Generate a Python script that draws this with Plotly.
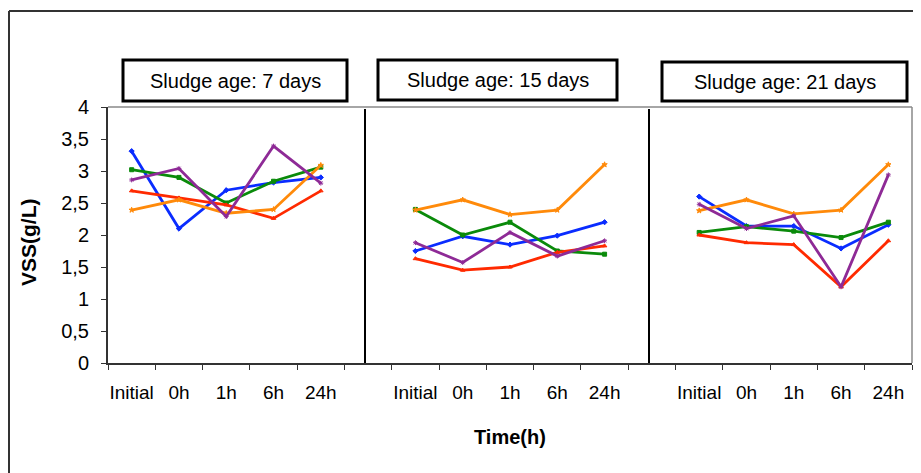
import plotly.graph_objects as go

# ---- data ----
time_labels = ["Initial", "0h", "1h", "6h", "24h"]
panel_titles = ["Sludge age: 7 days", "Sludge age: 15 days", "Sludge age: 21 days"]
y_tick_vals = [0, 0.5, 1, 1.5, 2, 2.5, 3, 3.5, 4]
y_tick_text = ["0", "0,5", "1", "1,5", "2", "2,5", "3", "3,5", "4"]

# values per panel (7 d, 15 d, 21 d), each at Initial, 0h, 1h, 6h, 24h
blue_7 = [3.31, 2.10, 2.70, 2.82, 2.90]
blue_15 = [1.75, 1.98, 1.85, 1.99, 2.20]
blue_21 = [2.60, 2.14, 2.14, 1.79, 2.16]

green_7 = [3.02, 2.90, 2.50, 2.84, 3.06]
green_15 = [2.40, 2.00, 2.20, 1.75, 1.70]
green_21 = [2.04, 2.13, 2.06, 1.96, 2.20]

purple_7 = [2.86, 3.04, 2.29, 3.39, 2.81]
purple_15 = [1.88, 1.57, 2.04, 1.67, 1.91]
purple_21 = [2.48, 2.10, 2.30, 1.19, 2.94]

red_7 = [2.69, 2.58, 2.47, 2.26, 2.69]
red_15 = [1.63, 1.45, 1.50, 1.73, 1.83]
red_21 = [2.00, 1.88, 1.85, 1.19, 1.91]

orange_7 = [2.39, 2.55, 2.34, 2.40, 3.09]
orange_15 = [2.39, 2.55, 2.32, 2.39, 3.10]
orange_21 = [2.38, 2.55, 2.33, 2.39, 3.10]

# ---- layout geometry (page pixels; page body has an 8px margin) ----
OFF = 8
PAGE_W, PAGE_H = 921, 473
W, H = PAGE_W - OFF, PAGE_H - OFF
L, R, T, B = 108, 912, 107, 363
FONT = "Arial, Liberation Sans, sans-serif"

def px(x):
    return (x - L) / (R - L)

def py(y):
    return (B - y) / (B - T)

n_slots = 17  # 5 categories + gap, x3
x_positions = list(range(n_slots))
x_labels = []
for p in range(3):
    x_labels += time_labels
    if p < 2:
        x_labels.append("")

def join(a, b, c):
    return a + [None] + b + [None] + c

series = [
    ("Series 1", "#0A2CFF", "diamond", join(blue_7, blue_15, blue_21)),
    ("Series 2", "#0A8A0A", "square", join(green_7, green_15, green_21)),
    ("Series 3", "#FF2A00", "triangle-up", join(red_7, red_15, red_21)),
    ("Series 4", "#FF8A0A", "star", join(orange_7, orange_15, orange_21)),
    ("Series 5", "#8E2A96", "asterisk-open", join(purple_7, purple_15, purple_21)),
]

fig = go.Figure()
for name, color, sym, ys in series:
    fig.add_trace(go.Scatter(
        x=x_positions, y=ys, name=name, mode="lines+markers",
        line=dict(color=color, width=2.8),
        marker=dict(symbol=sym, size=4, color=color, line=dict(color=color, width=1)),
        connectgaps=False, showlegend=False,
    ))

fig.update_layout(
    width=W, height=H,
    margin=dict(l=L - OFF, r=PAGE_W - R, t=T - OFF, b=PAGE_H - B, pad=0),
    paper_bgcolor="white", plot_bgcolor="white",
    font=dict(family=FONT, color="black"),
    showlegend=False,
)

fig.update_xaxes(
    range=[-0.5, n_slots - 0.5],
    tickmode="array", tickvals=x_positions, ticktext=x_labels,
    ticks="", showgrid=False, zeroline=False,
    showline=True, linecolor="#333333", linewidth=2,
    tickfont=dict(size=19, family=FONT, color="black"),
    ticklabelstandoff=11,
    minor=dict(tickmode="linear", tick0=-0.5, dtick=1, ticks="outside",
               ticklen=5, tickcolor="#333333", tickwidth=1, showgrid=False),
)
fig.update_yaxes(
    range=[0, 4], tickmode="array", tickvals=y_tick_vals, ticktext=y_tick_text,
    ticks="outside", ticklen=5, tickcolor="#333333", tickwidth=1,
    showgrid=False, zeroline=False,
    showline=True, linecolor="#333333", linewidth=2,
    tickfont=dict(size=20, family=FONT, color="black"),
    ticklabelstandoff=8,
)

shapes = []
# outer chart border (only top and left visible in the frame)
shapes.append(dict(type="line", xref="paper", yref="paper",
                   x0=px(9), x1=px(921), y0=py(11), y1=py(11),
                   line=dict(color="#333333", width=2), layer="below"))
shapes.append(dict(type="line", xref="paper", yref="paper",
                   x0=px(9), x1=px(9), y0=py(11), y1=py(473),
                   line=dict(color="#333333", width=2), layer="below"))
# plot area border top & right
shapes.append(dict(type="line", xref="paper", yref="paper",
                   x0=0, x1=1, y0=1, y1=1, line=dict(color="#888888", width=1.5)))
shapes.append(dict(type="line", xref="paper", yref="paper",
                   x0=1, x1=1, y0=0, y1=1, line=dict(color="#888888", width=1.5)))
# panel dividers
for dx in [365, 649]:
    shapes.append(dict(type="line", xref="paper", yref="paper",
                       x0=px(dx), x1=px(dx), y0=0, y1=py(109),
                       line=dict(color="black", width=2)))
# title boxes
boxes = [(123, 347, 60, 101), (378, 617, 60, 100), (662, 907, 62, 101)]
for (x0, x1, y0, y1) in boxes:
    shapes.append(dict(type="rect", xref="paper", yref="paper",
                       x0=px(x0), x1=px(x1), y0=py(y1), y1=py(y0),
                       line=dict(color="black", width=3), fillcolor="white"))
fig.update_layout(shapes=shapes)

annotations = []
for (x0, x1, y0, y1), title in zip(boxes, panel_titles):
    annotations.append(dict(xref="paper", yref="paper",
                            x=px((x0 + x1) / 2), y=py((y0 + y1) / 2),
                            text=title, showarrow=False, xanchor="center", yanchor="middle",
                            font=dict(size=20, family=FONT, color="black")))
annotations.append(dict(xref="paper", yref="paper", x=px(510), y=py(437),
                        text="<b>Time(h)</b>", showarrow=False,
                        xanchor="center", yanchor="middle",
                        font=dict(size=20, family=FONT, color="black")))
annotations.append(dict(xref="paper", yref="paper", x=px(28), y=py(242),
                        text="<b>VSS(g/L)</b>", showarrow=False, textangle=-90,
                        xanchor="center", yanchor="middle",
                        font=dict(size=21, family=FONT, color="black")))
fig.update_layout(annotations=annotations)

fig.write_html("out.html")
